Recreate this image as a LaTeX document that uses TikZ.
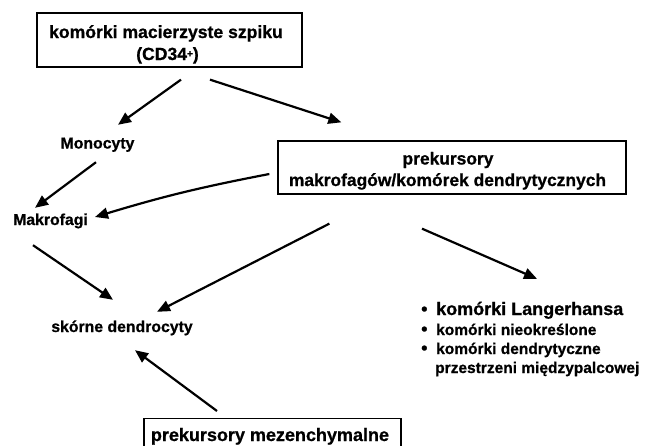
\documentclass[tikz,border=0pt]{standalone}
\usepackage{fontspec}
\setmainfont{Liberation Sans}[BoldFeatures={FakeBold=0.8}]
\usetikzlibrary{arrows.meta}
\begin{document}
\begin{tikzpicture}[x=1pt,y=-1pt,
  box/.style={draw, line width=1.3pt, inner sep=0pt},
  lbl/.style={inner sep=0pt, anchor=base, text height=12pt, text depth=4pt},
  fbig/.style={font=\fontsize{17.6}{20}\selectfont\bfseries},
  fmid/.style={font=\fontsize{15.8}{18}\selectfont\bfseries},
  fsmall/.style={font=\fontsize{15.5}{18}\selectfont\bfseries},
  arr/.style={line width=2.2pt, -{Triangle[length=13pt,width=11pt]}},
]
\useasboundingbox (0,0) rectangle (647,445);
\begin{scope}
\clip (0,0) rectangle (647,445);
% boxes
\node[box, minimum width=265pt, minimum height=54pt] (top) at (169.5,40) {};
\node[lbl, fbig] (top1) at (166,38) {komórki macierzyste szpiku};
\node[lbl, fbig] (top2) at (167.5,60) {(CD34\raisebox{3pt}{\fontsize{10}{10}\selectfont+})};

\node[box, minimum width=348pt, minimum height=53pt] (prek) at (452,167.5) {};
\node[lbl, font=\fontsize{17.4}{20}\selectfont\bfseries] (prek1) at (448,164.5) {prekursory};
\node[lbl, font=\fontsize{17.4}{20}\selectfont\bfseries] (prek2) at (447.5,186) {makrofagów/komórek dendrytycznych};

\node[box, anchor=north, minimum width=257pt, minimum height=40pt] (mez) at (272.5,418) {};
\node[lbl, font=\fontsize{18}{20}\selectfont\bfseries] (mezt) at (270,441) {prekursory mezenchymalne};

% plain labels
\node[lbl, fmid] (mono) at (97.5,148.5) {Monocyty};
\node[lbl, fmid] (makro) at (50.5,225) {Makrofagi};
\node[lbl, fmid] (skor) at (122,332) {skórne dendrocyty};

% list
\node[lbl, anchor=base west, text height=14pt, font=\fontsize{18}{20}\selectfont\bfseries] (lang) at (421,315) {\makebox[15pt][l]{•}komórki Langerhansa};
\node[lbl, anchor=base west, fsmall] (nieo) at (421,335) {\makebox[15pt][l]{\fontsize{18}{20}\selectfont•}komórki nieokreślone};
\node[lbl, anchor=base west, fsmall] (dend) at (421,354) {\makebox[15pt][l]{\fontsize{18}{20}\selectfont•}komórki dendrytyczne};
\node[lbl, anchor=base west, fsmall] (prze) at (421,373) {\hspace*{14pt}przestrzeni międzypalcowej};

% arrows
\draw[arr] ([shift={(11.5,12)}]top.south) -- ([shift={(20.5,-11.5)}]mono.north);
\draw[arr] ([shift={(40.5,12)}]top.south) -- ([shift={(64,-18)}]prek.north west);
\draw[arr] ([shift={(-1.5,9.5)}]mono.south) -- ([shift={(-15.5,-5)}]makro.north);
\draw[arr] ([shift={(-8,6.5)}]prek.west) to[bend right=3] ([shift={(7,-4)}]makro.east);
\draw[arr] ([shift={(52,29)}]prek.south west) -- ([shift={(35,-8)}]skor.north);
\draw[arr] ([shift={(-17.5,16)}]makro.south) -- ([shift={(-9,-20)}]skor.north);
\draw[arr] ([shift={(-30,34)}]prek.south) -- ([shift={(116,-22)}]lang.north west);
\draw[arr] ([shift={(-55.5,-7)}]mez.north) -- ([shift={(13,14)}]skor.south);
\end{scope}
\end{tikzpicture}
\end{document}
